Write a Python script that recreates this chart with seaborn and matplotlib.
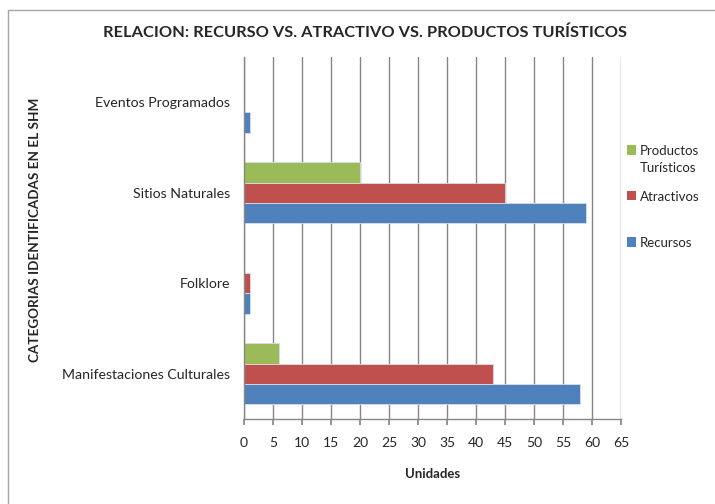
import seaborn as sns
import matplotlib.pyplot as plt
import matplotlib.lines as mlines
import matplotlib.patches as mpatches
import pandas as pd

sns.set_theme(style="white")
plt.rcParams["font.family"] = ["Lato", "DejaVu Sans"]

# datos
categorias = ["Eventos Programados", "Sitios Naturales", "Folklore", "Manifestaciones Culturales"]
recursos = [1, 59, 1, 58]
atractivos = [0, 45, 1, 43]
productos = [0, 20, 0, 6]
series = ["Productos\nTurísticos", "Atractivos", "Recursos"]
colores = ["#9BBB59", "#C0504D", "#4F81BD"]
ticks_x = list(range(0, 70, 5))

df = pd.DataFrame({
    "categoria": categorias * 3,
    "serie": [series[0]] * 4 + [series[1]] * 4 + [series[2]] * 4,
    "valor": productos + atractivos + recursos,
})

fig = plt.figure(figsize=(7.15, 5.04), dpi=100)
ax = fig.add_axes([244 / 715, 1 - 419 / 504, (621 - 244) / 715, (419 - 57) / 504])

sns.barplot(data=df, x="valor", y="categoria", hue="serie", order=categorias,
            hue_order=series, palette=colores, saturation=1, width=0.67,
            edgecolor="#D6DEEA", linewidth=0.6, legend=False, ax=ax)

ax.set_xlim(0, 65)
ax.set_ylim(3.5, -0.5)
ax.set_xticks(ticks_x)
ax.xaxis.grid(True, color="#868686", linewidth=1)
ax.set_axisbelow(True)
for s in ["top", "right"]:
    ax.spines[s].set_visible(False)
for s in ["left", "bottom"]:
    ax.spines[s].set_color("#868686")
    ax.spines[s].set_linewidth(1)
ax.tick_params(axis="x", bottom=True, length=4, color="#868686", pad=9, labelsize=10)
ax.tick_params(axis="y", left=False, length=0, pad=10, labelsize=10.2)

ax.set_xlabel("Unidades", fontweight="bold", fontsize=9.5, labelpad=14)
ax.set_ylabel("")
fig.text(35 / 715, 1 - 230 / 504, "CATEGORIAS IDENTIFICADAS EN EL SHM", rotation=90,
         ha="center", va="center", fontweight="bold", fontsize=9.7)
fig.text(365 / 715, 1 - 33 / 504, "RELACION: RECURSO VS. ATRACTIVO VS. PRODUCTOS TURÍSTICOS",
         ha="center", va="center", fontweight="bold", fontsize=11.8)

# leyenda manual
leyenda_y = [150, 196, 242]
for etiqueta, color, yy in zip(series, colores, leyenda_y):
    fig.add_artist(mpatches.Rectangle((627 / 715, 1 - (yy + 4.5) / 504), 9 / 715, 9 / 504,
                                      facecolor=color, edgecolor="none", transform=fig.transFigure))
    fig.text(640 / 715, 1 - (yy - 5) / 504, etiqueta, ha="left", va="top",
             fontsize=9.5, linespacing=1.45)

# marco exterior
fig.add_artist(mlines.Line2D([8 / 715, 8 / 715], [0, 1 - 10 / 504], color="#A6A6A6", lw=1))
fig.add_artist(mlines.Line2D([8 / 715, 1], [1 - 10 / 504, 1 - 10 / 504], color="#A6A6A6", lw=1))

fig.savefig("out.png", dpi=100)
